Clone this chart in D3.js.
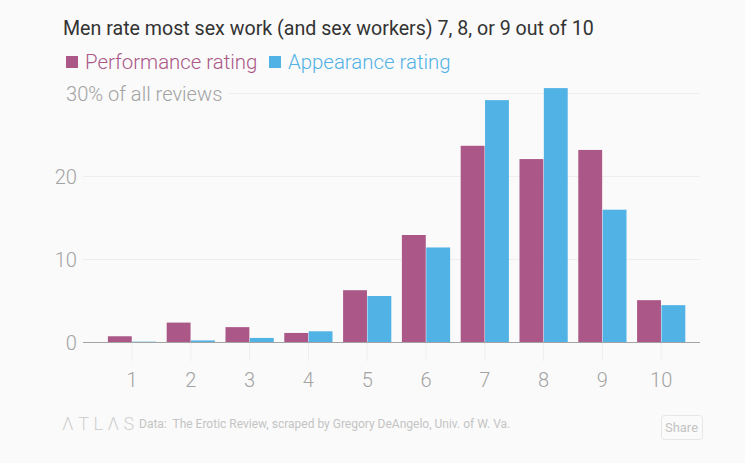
<!DOCTYPE html>
<html>
<head>
<meta charset="utf-8">
<script src="https://cdn.jsdelivr.net/npm/d3@7"></script>
<style>
html, body { margin: 0; padding: 0; background: #fafafa; overflow: hidden; }
text { font-family: Roboto, sans-serif; }
</style>
</head>
<body>
<div id="vis"></div>
<script>
var width = 745,
    height = 463;

var ratings = ["1", "2", "3", "4", "5", "6", "7", "8", "9", "10"];
var performance = [0.75, 2.4, 1.85, 1.15, 6.3, 12.95, 23.7, 22.1, 23.2, 5.1];
var appearance = [0.1, 0.25, 0.55, 1.35, 5.6, 11.45, 29.2, 30.65, 16, 4.5];
var yTicks = [0, 10, 20, 30];
var seriesNames = ["Performance rating", "Appearance rating"];
var seriesColors = ["#ab5787", "#51b2e5"];

var svg = d3.select("#vis").append("svg")
    .attr("width", width)
    .attr("height", height);

var x = d3.scaleBand().domain(ratings).range([102.6, 690.6]).paddingInner(0.18).paddingOuter(0.09);
var inner = d3.scaleBand().domain([0, 1]).range([0, x.bandwidth()]).paddingInner(0.02);
var y = d3.scaleLinear().domain([0, 30]).range([342.5, 93.5]);

// title
svg.append("text")
    .attr("x", 63).attr("y", 35)
    .attr("font-size", 19.63).attr("fill", "#333333")
    .text("Men rate most sex work (and sex workers) 7, 8, or 9 out of 10");

// legend
var legendX = [66, 269];
seriesNames.forEach(function(name, i) {
    svg.append("rect")
        .attr("x", legendX[i]).attr("y", 56).attr("width", 12).attr("height", 12)
        .attr("fill", seriesColors[i]);
    svg.append("text")
        .attr("x", legendX[i] + 19).attr("y", 69)
        .attr("font-size", 20.4).attr("font-weight", 300).attr("fill", seriesColors[i])
        .text(name);
});

// grid
svg.append("g").selectAll("line")
    .data(yTicks.slice(1))
    .enter().append("line")
    .attr("x1", function(d) { return d == 30 ? 228 : 83; })
    .attr("x2", 700)
    .attr("y1", function(d) { return y(d); })
    .attr("y2", function(d) { return y(d); })
    .attr("stroke", "#eeeeee");

svg.append("g").selectAll("text")
    .data(yTicks)
    .enter().append("text")
    .attr("x", function(d) { return d == 30 ? 66 : 77; })
    .attr("y", function(d) { return y(d) + 7; })
    .attr("text-anchor", function(d) { return d == 30 ? "start" : "end"; })
    .attr("font-size", 20.1).attr("font-weight", 300).attr("fill", "#a3a3a3")
    .text(function(d) { return d == 30 ? "30% of all reviews" : d; });

// x ticks
var center = function(d) { return x(d) + x.bandwidth() / 2; };
svg.append("g").selectAll("line")
    .data(ratings)
    .enter().append("line")
    .attr("x1", center).attr("x2", center)
    .attr("y1", 342).attr("y2", 361)
    .attr("stroke", "#eeeeee");

svg.append("g").selectAll("text")
    .data(ratings)
    .enter().append("text")
    .attr("x", center).attr("y", 387)
    .attr("text-anchor", "middle")
    .attr("font-size", 20).attr("font-weight", 300).attr("fill", "#a3a3a3")
    .text(function(d) { return d; });

// bars
[performance, appearance].forEach(function(values, s) {
    svg.append("g").selectAll("rect")
        .data(values)
        .enter().append("rect")
        .attr("x", function(d, i) { return x(ratings[i]) + inner(s); })
        .attr("y", function(d) { return y(d); })
        .attr("width", inner.bandwidth())
        .attr("height", function(d) { return y(0) - y(d); })
        .attr("fill", seriesColors[s]);
});

svg.append("line")
    .attr("x1", 83).attr("x2", 700)
    .attr("y1", 342.5).attr("y2", 342.5)
    .attr("stroke", "#a3a3a3");

// footer
svg.append("text")
    .attr("x", 62).attr("y", 430)
    .attr("font-size", 18).attr("font-weight", 300).attr("letter-spacing", 4.5).attr("fill", "#d0d0d0")
    .text("ΛTLΛS");

svg.append("text")
    .attr("x", 139).attr("y", 428)
    .style("font-family", "'Liberation Sans Narrow', Roboto, sans-serif")
    .style("white-space", "pre")
    .attr("font-size", 12).attr("fill", "#c4c4c4")
    .text("Data:  The Erotic Review, scraped by Gregory DeAngelo, Univ. of W. Va.");

svg.append("rect")
    .attr("x", 661.5).attr("y", 415.5).attr("width", 41).attr("height", 24).attr("rx", 3)
    .attr("fill", "none").attr("stroke", "#e6e6e6");

svg.append("text")
    .attr("x", 681.5).attr("y", 432)
    .attr("text-anchor", "middle")
    .style("font-family", "'Liberation Sans Narrow', Roboto, sans-serif")
    .attr("font-size", 13).attr("fill", "#c4c4c4")
    .text("Share");
</script>
</body>
</html>
